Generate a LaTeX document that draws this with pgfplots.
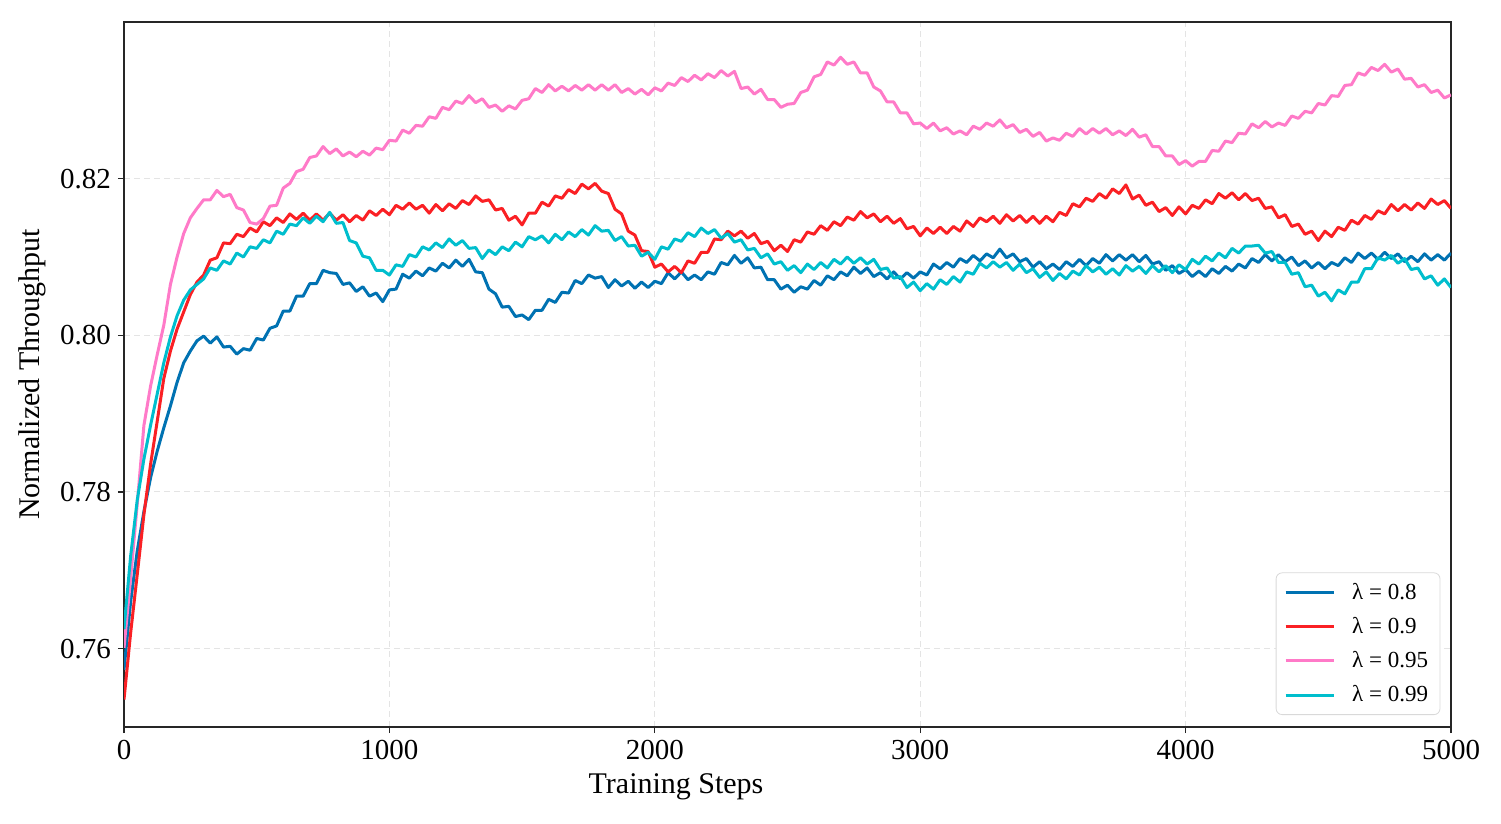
\documentclass[border=0pt]{standalone}
\usepackage{pgfplots}
\pgfplotsset{compat=1.18}
\usepackage{fontspec}
\setmainfont{Liberation Serif}
\definecolor{cblue}{RGB}{0,114,178}
\definecolor{cred}{RGB}{250,32,36}
\definecolor{cpink}{RGB}{255,122,200}
\definecolor{ccyan}{RGB}{0,190,205}
\definecolor{gridc}{RGB}{228,228,228}
\begin{document}
\begin{tikzpicture}
\begin{axis}[
  scale only axis, width=663.5pt, height=352.5pt,
  xmin=0, xmax=5000, ymin=0.75, ymax=0.84,
  xtick={0,1000,2000,3000,4000,5000}, xticklabels={0,1000,2000,3000,4000,5000},
  ytick={0.76,0.78,0.80,0.82}, yticklabels={0.76,0.78,0.80,0.82},
  tick align=outside, major tick length=3pt, tick pos=left,
  tick style={black!85, line width=0.6pt},
  ticklabel style={font=\fontsize{14.5}{17}\selectfont},
  label style={font=\fontsize{15}{18}\selectfont},
  xlabel={Training Steps}, ylabel={Normalized Throughput},
  xlabel style={at={(ticklabel cs:0.416)}, anchor=near ticklabel},
  grid=major, grid style={dash pattern=on 3pt off 2pt, gridc, line width=0.5pt},
  axis line style={line width=0.75pt, black!85},
  legend cell align=left,
  legend image code/.code={\draw[#1] (0pt,0pt) -- (24pt,0pt);},
  legend style={at={(0.992,0.017)}, anchor=south east, draw=black!15, rounded corners=3pt,
    fill=white, font=\fontsize{11.5}{14}\selectfont, inner xsep=4pt, inner ysep=3pt, row sep=3.5pt,
    /tikz/every odd column/.append style={column sep=6.5pt}},
]
\addplot[cblue, line width=1.5pt, line join=round] coordinates {(0,.7573)(25,.7660)(50,.7725)(75,.7775)(100,.7818)(125,.7852)(150,.7882)(175,.7910)(200,.7940)(225,.7965)(250,.7980)(275,.7993)
(300,.7999)(325,.7990)(350,.7998)(375,.7985)(400,.7986)(425,.7976)(450,.7983)(475,.7981)(500,.7996)(525,.7994)(550,.8009)(575,.8012)(600,.8031)(625,.8031)(650,.8050)(675,.8050)(700,.8066)(725,.8066)(750,.8083)(775,.8080)(800,.8079)(825,.8065)(850,.8067)(875,.8056)(900,.8062)(925,.8050)(950,.8054)(975,.8043)
(1000,.8058)(1025,.8059)(1050,.8078)(1075,.8073)(1100,.8082)(1125,.8076)(1150,.8086)(1175,.8082)(1200,.8092)(1225,.8086)(1250,.8096)(1275,.8088)(1300,.8097)(1325,.8081)(1350,.8080)(1375,.8059)(1400,.8053)(1425,.8036)(1450,.8037)(1475,.8024)(1500,.8026)(1525,.8020)(1550,.8032)(1575,.8032)(1600,.8046)(1625,.8042)(1650,.8055)(1675,.8054)(1700,.8070)(1725,.8066)(1750,.8077)(1775,.8073)(1800,.8075)(1825,.8061)(1850,.8071)(1875,.8063)(1900,.8069)(1925,.8060)(1950,.8068)(1975,.8061)
(2000,.8069)(2025,.8066)(2050,.8080)(2075,.8072)(2100,.8081)(2125,.8071)(2150,.8077)(2175,.8071)(2200,.8081)(2225,.8078)(2250,.8093)(2275,.8090)(2300,.8102)(2325,.8092)(2350,.8099)(2375,.8086)(2400,.8087)(2425,.8071)(2450,.8071)(2475,.8059)(2500,.8064)(2525,.8055)(2550,.8062)(2575,.8059)(2600,.8070)(2625,.8064)(2650,.8076)(2675,.8071)(2700,.8081)(2725,.8076)(2750,.8087)(2775,.8079)(2800,.8086)(2825,.8075)(2850,.8080)(2875,.8072)(2900,.8081)(2925,.8072)(2950,.8080)(2975,.8073)
(3000,.8081)(3025,.8077)(3050,.8091)(3075,.8085)(3100,.8093)(3125,.8087)(3150,.8098)(3175,.8093)(3200,.8102)(3225,.8095)(3250,.8104)(3275,.8099)(3300,.8110)(3325,.8099)(3350,.8104)(3375,.8094)(3400,.8098)(3425,.8087)(3450,.8094)(3475,.8085)(3500,.8091)(3525,.8084)(3550,.8094)(3575,.8088)(3600,.8097)(3625,.8089)(3650,.8098)(3675,.8092)(3700,.8103)(3725,.8095)(3750,.8103)(3775,.8096)(3800,.8103)(3825,.8094)(3850,.8102)(3875,.8091)(3900,.8094)(3925,.8083)(3950,.8089)(3975,.8079)
(4000,.8084)(4025,.8075)(4050,.8082)(4075,.8075)(4100,.8085)(4125,.8079)(4150,.8088)(4175,.8082)(4200,.8091)(4225,.8086)(4250,.8098)(4275,.8093)(4300,.8103)(4325,.8095)(4350,.8103)(4375,.8094)(4400,.8100)(4425,.8089)(4450,.8095)(4475,.8086)(4500,.8093)(4525,.8085)(4550,.8093)(4575,.8089)(4600,.8099)(4625,.8093)(4650,.8105)(4675,.8098)(4700,.8105)(4725,.8097)(4750,.8106)(4775,.8098)(4800,.8104)(4825,.8094)(4850,.8101)(4875,.8094)(4900,.8104)(4925,.8096)(4950,.8103)(4975,.8096)(5000,.8105)};
\addlegendentry{λ = 0.8}
\addplot[cred, line width=1.5pt, line join=round] coordinates {(0,.7535)(25,.7620)(50,.7695)(75,.7771)(100,.7835)(125,.7890)(150,.7945)(175,.7980)(200,.8008)(225,.8030)(250,.8052)(275,.8068)
(300,.8077)(325,.8096)(350,.8099)(375,.8118)(400,.8117)(425,.8129)(450,.8126)(475,.8137)(500,.8132)(525,.8145)(550,.8140)(575,.8150)(600,.8144)(625,.8155)(650,.8148)(675,.8156)(700,.8147)(725,.8155)(750,.8147)(775,.8156)(800,.8147)(825,.8154)(850,.8145)(875,.8153)(900,.8147)(925,.8159)(950,.8153)(975,.8161)
(1000,.8154)(1025,.8166)(1050,.8161)(1075,.8169)(1100,.8161)(1125,.8166)(1150,.8156)(1175,.8167)(1200,.8159)(1225,.8168)(1250,.8162)(1275,.8172)(1300,.8167)(1325,.8178)(1350,.8171)(1375,.8173)(1400,.8160)(1425,.8162)(1450,.8147)(1475,.8152)(1500,.8141)(1525,.8156)(1550,.8156)(1575,.8170)(1600,.8165)(1625,.8178)(1650,.8175)(1675,.8186)(1700,.8181)(1725,.8193)(1750,.8187)(1775,.8194)(1800,.8184)(1825,.8181)(1850,.8161)(1875,.8155)(1900,.8133)(1925,.8128)(1950,.8108)(1975,.8107)
(2000,.8087)(2025,.8091)(2050,.8081)(2075,.8088)(2100,.8080)(2125,.8095)(2150,.8092)(2175,.8106)(2200,.8106)(2225,.8123)(2250,.8122)(2275,.8133)(2300,.8127)(2325,.8133)(2350,.8124)(2375,.8130)(2400,.8117)(2425,.8120)(2450,.8108)(2475,.8115)(2500,.8107)(2525,.8122)(2550,.8119)(2575,.8132)(2600,.8129)(2625,.8140)(2650,.8134)(2675,.8145)(2700,.8140)(2725,.8151)(2750,.8147)(2775,.8158)(2800,.8150)(2825,.8155)(2850,.8145)(2875,.8152)(2900,.8143)(2925,.8149)(2950,.8136)(2975,.8139)
(3000,.8127)(3025,.8137)(3050,.8130)(3075,.8138)(3100,.8130)(3125,.8139)(3150,.8133)(3175,.8146)(3200,.8139)(3225,.8150)(3250,.8145)(3275,.8152)(3300,.8143)(3325,.8154)(3350,.8146)(3375,.8153)(3400,.8144)(3425,.8152)(3450,.8143)(3475,.8152)(3500,.8145)(3525,.8157)(3550,.8153)(3575,.8168)(3600,.8164)(3625,.8175)(3650,.8171)(3675,.8181)(3700,.8175)(3725,.8187)(3750,.8181)(3775,.8192)(3800,.8174)(3825,.8179)(3850,.8166)(3875,.8170)(3900,.8158)(3925,.8163)(3950,.8153)(3975,.8164)
(4000,.8155)(4025,.8166)(4050,.8162)(4075,.8173)(4100,.8168)(4125,.8181)(4150,.8175)(4175,.8182)(4200,.8173)(4225,.8181)(4250,.8172)(4275,.8175)(4300,.8162)(4325,.8164)(4350,.8150)(4375,.8154)(4400,.8139)(4425,.8142)(4450,.8129)(4475,.8133)(4500,.8121)(4525,.8133)(4550,.8126)(4575,.8138)(4600,.8134)(4625,.8147)(4650,.8142)(4675,.8153)(4700,.8148)(4725,.8159)(4750,.8155)(4775,.8167)(4800,.8159)(4825,.8167)(4850,.8160)(4875,.8169)(4900,.8162)(4925,.8174)(4950,.8167)(4975,.8172)(5000,.8162)};
\addlegendentry{λ = 0.9}
\addplot[cpink, line width=1.5pt, line join=round] coordinates {(0,.7601)(25,.7690)(50,.7785)(75,.7885)(100,.7935)(125,.7975)(150,.8013)(175,.8065)(200,.8100)(225,.8130)(250,.8150)(275,.8162)
(300,.8173)(325,.8173)(350,.8185)(375,.8177)(400,.8180)(425,.8163)(450,.8160)(475,.8144)(500,.8142)(525,.8149)(550,.8165)(575,.8166)(600,.8188)(625,.8194)(650,.8209)(675,.8212)(700,.8227)(725,.8229)(750,.8241)(775,.8232)(800,.8238)(825,.8229)(850,.8234)(875,.8228)(900,.8235)(925,.8230)(950,.8239)(975,.8237)
(1000,.8249)(1025,.8248)(1050,.8262)(1075,.8258)(1100,.8268)(1125,.8267)(1150,.8279)(1175,.8277)(1200,.8291)(1225,.8288)(1250,.8299)(1275,.8296)(1300,.8306)(1325,.8297)(1350,.8302)(1375,.8291)(1400,.8294)(1425,.8286)(1450,.8293)(1475,.8289)(1500,.8300)(1525,.8302)(1550,.8315)(1575,.8310)(1600,.8320)(1625,.8312)(1650,.8318)(1675,.8312)(1700,.8319)(1725,.8313)(1750,.8320)(1775,.8313)(1800,.8320)(1825,.8313)(1850,.8320)(1875,.8310)(1900,.8315)(1925,.8308)(1950,.8314)(1975,.8307)
(2000,.8316)(2025,.8312)(2050,.8322)(2075,.8319)(2100,.8329)(2125,.8324)(2150,.8332)(2175,.8326)(2200,.8334)(2225,.8329)(2250,.8338)(2275,.8331)(2300,.8337)(2325,.8315)(2350,.8317)(2375,.8308)(2400,.8314)(2425,.8301)(2450,.8301)(2475,.8291)(2500,.8295)(2525,.8296)(2550,.8310)(2575,.8313)(2600,.8330)(2625,.8333)(2650,.8349)(2675,.8345)(2700,.8355)(2725,.8346)(2750,.8349)(2775,.8335)(2800,.8335)(2825,.8317)(2850,.8312)(2875,.8298)(2900,.8298)(2925,.8284)(2950,.8284)(2975,.8270)
(3000,.8271)(3025,.8264)(3050,.8271)(3075,.8261)(3100,.8265)(3125,.8257)(3150,.8261)(3175,.8256)(3200,.8267)(3225,.8263)(3250,.8271)(3275,.8267)(3300,.8275)(3325,.8265)(3350,.8269)(3375,.8259)(3400,.8263)(3425,.8254)(3450,.8259)(3475,.8248)(3500,.8252)(3525,.8249)(3550,.8258)(3575,.8254)(3600,.8264)(3625,.8257)(3650,.8264)(3675,.8258)(3700,.8264)(3725,.8256)(3750,.8261)(3775,.8255)(3800,.8263)(3825,.8253)(3850,.8256)(3875,.8241)(3900,.8241)(3925,.8229)(3950,.8229)(3975,.8218)
(4000,.8223)(4025,.8216)(4050,.8222)(4075,.8222)(4100,.8236)(4125,.8235)(4150,.8248)(4175,.8246)(4200,.8258)(4225,.8257)(4250,.8270)(4275,.8265)(4300,.8273)(4325,.8266)(4350,.8271)(4375,.8268)(4400,.8280)(4425,.8277)(4450,.8286)(4475,.8284)(4500,.8296)(4525,.8294)(4550,.8306)(4575,.8305)(4600,.8319)(4625,.8320)(4650,.8335)(4675,.8332)(4700,.8342)(4725,.8338)(4750,.8346)(4775,.8336)(4800,.8340)(4825,.8327)(4850,.8328)(4875,.8317)(4900,.8320)(4925,.8310)(4950,.8313)(4975,.8303)(5000,.8307)};
\addlegendentry{λ = 0.95}
\addplot[ccyan, line width=1.5pt, line join=round] coordinates {(0,.7625)(25,.7718)(50,.7790)(75,.7842)(100,.7885)(125,.7925)(150,.7965)(175,.7998)(200,.8025)(225,.8045)(250,.8058)(275,.8065)
(300,.8072)(325,.8086)(350,.8083)(375,.8095)(400,.8091)(425,.8105)(450,.8100)(475,.8113)(500,.8111)(525,.8122)(550,.8118)(575,.8133)(600,.8129)(625,.8142)(650,.8140)(675,.8150)(700,.8143)(725,.8152)(750,.8145)(775,.8157)(800,.8143)(825,.8144)(850,.8121)(875,.8118)(900,.8101)(925,.8099)(950,.8083)(975,.8083)
(1000,.8077)(1025,.8090)(1050,.8088)(1075,.8103)(1100,.8100)(1125,.8113)(1150,.8109)(1175,.8118)(1200,.8112)(1225,.8123)(1250,.8115)(1275,.8121)(1300,.8111)(1325,.8112)(1350,.8098)(1375,.8109)(1400,.8103)(1425,.8113)(1450,.8108)(1475,.8119)(1500,.8113)(1525,.8126)(1550,.8122)(1575,.8127)(1600,.8118)(1625,.8129)(1650,.8122)(1675,.8132)(1700,.8126)(1725,.8135)(1750,.8128)(1775,.8140)(1800,.8133)(1825,.8134)(1850,.8121)(1875,.8126)(1900,.8114)(1925,.8115)(1950,.8101)(1975,.8106)
(2000,.8097)(2025,.8113)(2050,.8110)(2075,.8123)(2100,.8120)(2125,.8131)(2150,.8126)(2175,.8137)(2200,.8130)(2225,.8135)(2250,.8124)(2275,.8130)(2300,.8119)(2325,.8122)(2350,.8109)(2375,.8111)(2400,.8099)(2425,.8104)(2450,.8091)(2475,.8094)(2500,.8083)(2525,.8089)(2550,.8080)(2575,.8091)(2600,.8084)(2625,.8093)(2650,.8086)(2675,.8097)(2700,.8091)(2725,.8100)(2750,.8092)(2775,.8099)(2800,.8091)(2825,.8097)(2850,.8084)(2875,.8086)(2900,.8073)(2925,.8075)(2950,.8061)(2975,.8068)
(3000,.8057)(3025,.8066)(3050,.8059)(3075,.8071)(3100,.8065)(3125,.8075)(3150,.8068)(3175,.8081)(3200,.8078)(3225,.8092)(3250,.8086)(3275,.8094)(3300,.8087)(3325,.8093)(3350,.8083)(3375,.8091)(3400,.8080)(3425,.8085)(3450,.8074)(3475,.8081)(3500,.8070)(3525,.8079)(3550,.8072)(3575,.8082)(3600,.8077)(3625,.8089)(3650,.8081)(3675,.8087)(3700,.8078)(3725,.8085)(3750,.8077)(3775,.8089)(3800,.8082)(3825,.8088)(3850,.8079)(3875,.8089)(3900,.8081)(3925,.8089)(3950,.8080)(3975,.8090)
(4000,.8084)(4025,.8097)(4050,.8091)(4075,.8101)(4100,.8095)(4125,.8105)(4150,.8099)(4175,.8111)(4200,.8105)(4225,.8114)(4250,.8114)(4275,.8115)(4300,.8105)(4325,.8107)(4350,.8093)(4375,.8093)(4400,.8078)(4425,.8080)(4450,.8062)(4475,.8064)(4500,.8050)(4525,.8055)(4550,.8044)(4575,.8058)(4600,.8053)(4625,.8068)(4650,.8068)(4675,.8085)(4700,.8085)(4725,.8099)(4750,.8096)(4775,.8102)(4800,.8092)(4825,.8098)(4850,.8084)(4875,.8086)(4900,.8072)(4925,.8076)(4950,.8064)(4975,.8072)(5000,.8061)};
\addlegendentry{λ = 0.99}
\end{axis}
\pgfresetboundingbox
\path ([shift={(-62pt,-48pt)}]current axis.south west) rectangle ([shift={(25pt,11pt)}]current axis.north east);
\end{tikzpicture}
\end{document}
